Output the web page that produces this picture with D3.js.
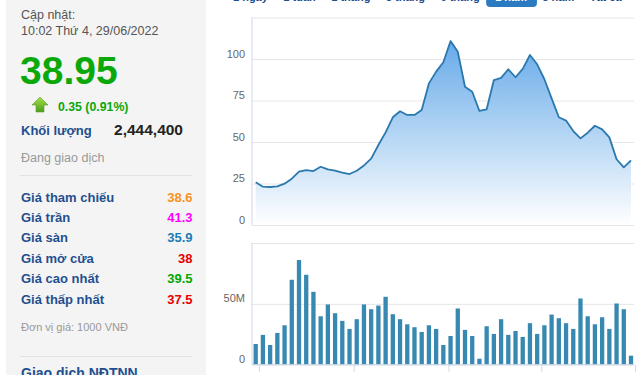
<!DOCTYPE html>
<html>
<head>
<meta charset="utf-8">
<script src="https://cdn.jsdelivr.net/npm/d3@7"></script>
<style>
  html, body { margin: 0; padding: 0; background: #fff; overflow: hidden; }
  svg { display: block; font-family: "Liberation Sans", Arial, sans-serif; }
</style>
</head>
<body>
<svg id="chart" width="640" height="375"></svg>
<script>
// ---- data ----
const updatedLabel = "Cập nhật:";
const updatedTime = "10:02 Thứ 4, 29/06/2022";
const lastPrice = "38.95";
const priceChange = "0.35 (0.91%)";
const volumeLabel = "Khối lượng";
const volumeValue = "2,444,400";
const statusText = "Đang giao dịch";
const infoLabels = ["Giá tham chiếu", "Giá trần", "Giá sàn", "Giá mở cửa", "Giá cao nhất", "Giá thấp nhất"];
const infoValues = ["38.6", "41.3", "35.9", "38", "39.5", "37.5"];
const infoColors = ["#f7931e", "#f0f", "#1a7db5", "#e80000", "#00a800", "#e80000"];
const unitText = "Đơn vị giá: 1000 VNĐ";
const foreignTitle = "Giao dịch NĐTNN";
const periods = ["1 ngày", "1 tuần", "1 tháng", "3 tháng", "6 tháng", "1 năm", "3 năm", "Tất cả"];
const activePeriod = "1 năm";

const weeks = [
  "2021-06-28","2021-07-05","2021-07-12","2021-07-19","2021-07-26","2021-08-02","2021-08-09",
  "2021-08-16","2021-08-23","2021-08-30","2021-09-06","2021-09-13","2021-09-20","2021-09-27",
  "2021-10-04","2021-10-11","2021-10-18","2021-10-25","2021-11-01","2021-11-08","2021-11-15",
  "2021-11-22","2021-11-29","2021-12-06","2021-12-13","2021-12-20","2021-12-27","2022-01-03",
  "2022-01-10","2022-01-17","2022-01-24","2022-01-31","2022-02-07","2022-02-14","2022-02-21",
  "2022-02-28","2022-03-07","2022-03-14","2022-03-21","2022-03-28","2022-04-04","2022-04-11",
  "2022-04-18","2022-04-25","2022-05-02","2022-05-09","2022-05-16","2022-05-23","2022-05-30",
  "2022-06-06","2022-06-13","2022-06-20","2022-06-27"
];
const prices = [
  25.7, 23.1, 22.9, 23.3, 24.9, 27.9, 32.1, 33.1, 32.5, 35.1, 33.5, 32.7, 31.5, 30.7,
  32.7, 35.9, 40.0, 48.2, 55.8, 64.9, 68.5, 66.3, 66.3, 69.3, 85.3, 92.4, 98.0, 110.8,
  104.4, 83.3, 80.3, 68.7, 69.7, 87.3, 88.6, 93.8, 89.0, 94.0, 102.4, 96.8, 87.8, 76.3,
  64.9, 62.9, 56.6, 52.2, 55.6, 59.8, 57.6, 52.8, 39.6, 34.7, 38.95
];
// volume in millions of shares
const volumes = [
  17.0, 24.5, 16.2, 26.1, 32.4, 69.8, 86.0, 73.9, 59.9, 39.8, 49.5, 42.3, 36.0, 29.4,
  37.4, 49.5, 45.6, 48.6, 55.8, 41.5, 37.4, 33.2, 30.8, 26.9, 32.4, 29.4, 16.2, 23.6,
  46.2, 28.6, 23.6, 4.9, 31.6, 25.3, 37.4, 24.5, 27.7, 22.8, 34.1, 25.3, 32.4, 41.2,
  38.2, 34.1, 29.4, 54.4, 39.8, 33.2, 39.0, 29.4, 50.3, 45.6, 7.4
];
const priceTicks = [0, 25, 50, 75, 100];
const priceGrid = [0, 25, 50, 75, 100, 125];
const volumeTicks = [0, 50];
const volumeGrid = [0, 50, 100];
const dateTicks = ["2021-07-01", "2021-10-01", "2022-01-01", "2022-04-01", "2022-07-01"];

// ---- layout ----
const svg = d3.select("#chart");
const navy = "#1f4f8f";
const plotLeft = 252, plotRight = 634;
const priceTop = 17.5, priceBottom = 225;
const volTop = 243, volBottom = 364.7;

const parse = d3.timeParse("%Y-%m-%d");
const dates = weeks.map(parse);

// ---- left info panel ----
svg.append("rect").attr("x", 6).attr("y", 0).attr("width", 200).attr("height", 375).attr("fill", "#f4f4f4");

const left = svg.append("g");
left.append("text").attr("x", 21).attr("y", 19).attr("font-size", 12.5).attr("fill", "#555").text(updatedLabel);
left.append("text").attr("x", 21).attr("y", 34.5).attr("font-size", 12.5).attr("fill", "#555").text(updatedTime);
left.append("text").attr("x", 20).attr("y", 83.5).attr("font-size", 39).attr("font-weight", "bold")
  .attr("fill", "#0aa80a").text(lastPrice);

// up arrow icon
const arrowGrad = svg.append("defs").append("linearGradient")
  .attr("id", "arrowGrad").attr("x1", 0).attr("y1", 0).attr("x2", 0).attr("y2", 1);
arrowGrad.append("stop").attr("offset", "0%").attr("stop-color", "#a8e04a");
arrowGrad.append("stop").attr("offset", "100%").attr("stop-color", "#4a9e1a");
left.append("path")
  .attr("d", "M40,97 L48,105 L44,105 L44,112 L36,112 L36,105 L32,105 Z")
  .attr("fill", "url(#arrowGrad)").attr("stroke", "#5a9e2a").attr("stroke-width", 0.6);
left.append("text").attr("x", 58).attr("y", 110.5).attr("font-size", 12.3).attr("font-weight", "bold")
  .attr("fill", "#0aa80a").text(priceChange);

left.append("text").attr("x", 21).attr("y", 135).attr("font-size", 13).attr("font-weight", "bold")
  .attr("fill", navy).text(volumeLabel);
left.append("text").attr("x", 183).attr("y", 135).attr("font-size", 15.5).attr("font-weight", "bold")
  .attr("text-anchor", "end").attr("fill", "#222").text(volumeValue);
left.append("text").attr("x", 21).attr("y", 162).attr("font-size", 12.5).attr("fill", "#999").text(statusText);
left.append("line").attr("x1", 20).attr("x2", 192).attr("y1", 175.5).attr("y2", 175.5).attr("stroke", "#e2e2e2");

const rowY = d3.scalePoint().domain(infoLabels).range([201.5, 303.6]);
const rows = left.selectAll("g.row").data(infoLabels).join("g").attr("class", "row")
  .attr("transform", d => `translate(0,${rowY(d)})`);
rows.append("text").attr("x", 21).attr("font-size", 13).attr("font-weight", "bold").attr("fill", navy).text(d => d);
rows.append("text").attr("x", 192.5).attr("text-anchor", "end").attr("font-size", 13).attr("font-weight", "bold")
  .attr("fill", (d, i) => infoColors[i]).text((d, i) => infoValues[i]);

left.append("text").attr("x", 21).attr("y", 331).attr("font-size", 11).attr("fill", "#999").text(unitText);
left.append("line").attr("x1", 20).attr("x2", 192).attr("y1", 356.5).attr("y2", 356.5).attr("stroke", "#e2e2e2");
left.append("text").attr("x", 21).attr("y", 378).attr("font-size", 14).attr("font-weight", "bold")
  .attr("fill", navy).text(foreignTitle);

// ---- period tabs ----
const tabs = svg.append("g").attr("font-size", 11).attr("font-weight", "bold");
let tx = 233;
periods.forEach(p => {
  const t = tabs.append("text").attr("x", tx).attr("y", 1).attr("fill", p === activePeriod ? "#fff" : navy).text(p);
  const w = t.node().getComputedTextLength();
  if (p === activePeriod) {
    tabs.insert("rect", "text").attr("x", tx - 9).attr("y", -14).attr("width", w + 19).attr("height", 21)
      .attr("rx", 4).attr("fill", "#2b7bc2");
  }
  tx += w + 15.5;
});

// ---- scales ----
const x = d3.scaleTime().domain(d3.extent(dates)).range([255.7, 631]);
const yPrice = d3.scaleLinear().domain([0, 125]).range([priceBottom, priceTop]);
const yVol = d3.scaleLinear().domain([0, 100]).range([volBottom, volTop]);

// ---- gridlines ----
function grid(scale, values) {
  const g = svg.append("g").attr("transform", `translate(${plotLeft},0)`)
    .call(d3.axisLeft(scale).tickValues(values).tickSize(-(plotRight - plotLeft)).tickFormat(""));
  g.select(".domain").remove();
  g.selectAll(".tick line").attr("stroke", "#e6e6e6");
}
grid(yPrice, priceGrid);
grid(yVol, volumeGrid);

// ---- price area ----
const defs = svg.select("defs");
const areaGrad = defs.append("linearGradient").attr("id", "areaGrad")
  .attr("gradientUnits", "userSpaceOnUse").attr("x1", 0).attr("x2", 0)
  .attr("y1", yPrice(110)).attr("y2", yPrice(0));
areaGrad.append("stop").attr("offset", "0%").attr("stop-color", "#68abe9");
areaGrad.append("stop").attr("offset", "100%").attr("stop-color", "#ffffff");

const series = dates.map((d, i) => ({date: d, price: prices[i], vol: volumes[i]}));

svg.append("path").datum(series)
  .attr("fill", "url(#areaGrad)")
  .attr("d", d3.area().x(d => x(d.date)).y0(yPrice(0)).y1(d => yPrice(d.price)));
svg.append("path").datum(series)
  .attr("fill", "none").attr("stroke", "#2a78ad").attr("stroke-width", 1.8).attr("stroke-linejoin", "round")
  .attr("d", d3.line().x(d => x(d.date)).y(d => yPrice(d.price)));

// ---- volume bars ----
const barW = 4.3;
svg.append("g").selectAll("rect").data(series).join("rect")
  .attr("x", d => x(d.date) - barW / 2)
  .attr("y", d => yVol(d.vol))
  .attr("width", barW)
  .attr("height", d => yVol(0) - yVol(d.vol))
  .attr("fill", "#3889b1");

// ---- axes ----
function yLabels(scale, values, fmt) {
  const g = svg.append("g").attr("transform", `translate(${plotLeft},0)`)
    .call(d3.axisLeft(scale).tickValues(values).tickSize(0).tickPadding(7).tickFormat(fmt));
  g.select(".domain").remove();
  g.selectAll("text").attr("y", -5.5).attr("fill", "#666").attr("font-size", 11)
    .attr("font-family", "'Liberation Sans', Arial, sans-serif");
}
yLabels(yPrice, priceTicks, d => d);
yLabels(yVol, volumeTicks, d => d === 0 ? "0" : d + "M");

const axisColor = "#ccd6eb";
svg.append("line").attr("x1", plotLeft).attr("x2", plotLeft).attr("y1", priceTop).attr("y2", priceBottom).attr("stroke", axisColor);
svg.append("line").attr("x1", plotLeft).attr("x2", plotLeft).attr("y1", volTop).attr("y2", volBottom).attr("stroke", axisColor);
svg.append("line").attr("x1", plotLeft).attr("x2", plotRight).attr("y1", volBottom).attr("y2", volBottom).attr("stroke", axisColor);

const xAxis = svg.append("g").attr("transform", `translate(0,${volBottom})`)
  .call(d3.axisBottom(x).tickValues(dateTicks.map(parse)).tickSize(7).tickPadding(8)
    .tickFormat(d3.timeFormat("%m/%Y")));
xAxis.select(".domain").remove();
xAxis.selectAll(".tick line").attr("stroke", axisColor);
xAxis.selectAll("text").attr("fill", "#666").attr("font-size", 11)
  .attr("font-family", "'Liberation Sans', Arial, sans-serif");
</script>
</body>
</html>
